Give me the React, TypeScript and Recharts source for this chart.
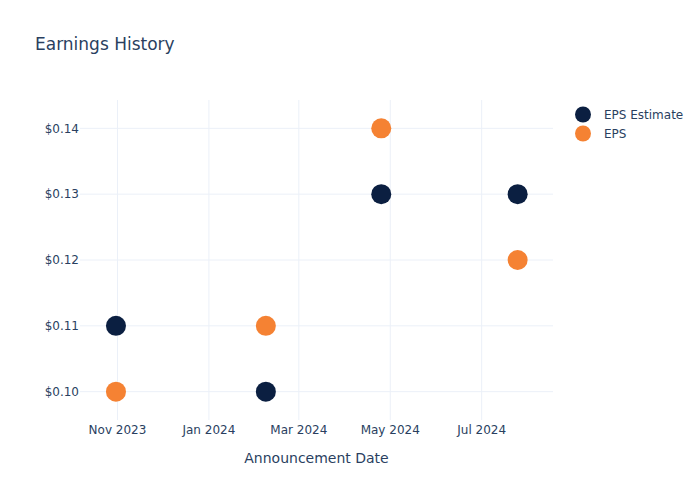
import React from "react";
import {
  ReferenceLine,
  Scatter,
  ScatterChart,
  XAxis,
  YAxis,
} from "recharts";

const announcementDates = ["2023-10-31", "2024-02-08", "2024-04-25", "2024-07-25"];
const epsEstimate = [0.11, 0.1, 0.13, 0.13];
const epsActual = [0.1, 0.11, 0.14, 0.12];
const xTickDates = ["2023-11-01", "2024-01-01", "2024-03-01", "2024-05-01", "2024-07-01"];
const yTicks = [0.1, 0.11, 0.12, 0.13, 0.14];
const monthNames = ["Jan", "Feb", "Mar", "Apr", "May", "Jun", "Jul", "Aug", "Sep", "Oct", "Nov", "Dec"];

const TEXT = "#2a3f5f";
const GRID = "#EBF0F8";
const NAVY = "#0b1f41";
const ORANGE = "#f58233";
const FONT = "'DejaVu Sans', sans-serif";

const ts = (d: string) => Date.parse(d + "T00:00:00Z");
const estimateData = announcementDates.map((d, i) => ({ date: ts(d), value: epsEstimate[i] }));
const epsData = announcementDates.map((d, i) => ({ date: ts(d), value: epsActual[i] }));
const xTicks = xTickDates.map(ts);
const xDomain = [ts("2023-10-07"), ts("2024-08-17") + 14 * 3600000];

const formatDate = (v: number) => {
  const d = new Date(v);
  return `${monthNames[d.getUTCMonth()]} ${d.getUTCFullYear()}`;
};

const dot = (color: string) => (props: any) =>
  <circle cx={props.cx} cy={props.cy} r={10} fill={color} />;

const legendItems = [
  { name: "EPS Estimate", color: NAVY },
  { name: "EPS", color: ORANGE },
];

export default function App() {
  return (
    <div style={{ position: "absolute", top: 0, left: 0, width: 700, height: 500, background: "#fff" }}>
      <div
        style={{
          position: "absolute",
          left: 35,
          top: 34,
          fontFamily: FONT,
          fontSize: 17,
          color: TEXT,
        }}
      >
        Earnings History
      </div>
      <div
        style={{
          position: "absolute",
          top: 105,
          left: 574,
          fontFamily: FONT,
          fontSize: 12,
          color: TEXT,
          zIndex: 2,
        }}
      >
        {legendItems.map((item) => (
          <div key={item.name} style={{ display: "flex", alignItems: "center", height: 19 }}>
            <svg width={20} height={19}>
              <circle cx={9} cy={9.5} r={8} fill={item.color} />
            </svg>
            <span style={{ marginLeft: 10 }}>{item.name}</span>
          </div>
        ))}
      </div>
      <ScatterChart
        width={700}
        height={500}
        margin={{ top: 100, right: 147, left: 20, bottom: 50 }}
        style={{ fontFamily: FONT }}
      >
        {yTicks.map((t) => (
          <ReferenceLine key={`y${t}`} y={t} stroke={GRID} strokeWidth={1} />
        ))}
        {xTicks.map((t) => (
          <ReferenceLine key={`x${t}`} x={t} stroke={GRID} strokeWidth={1} />
        ))}
        <XAxis
          type="number"
          dataKey="date"
          domain={xDomain}
          ticks={xTicks}
          allowDataOverflow
          tickFormatter={formatDate}
          axisLine={false}
          tickLine={false}
          tickSize={0}
          tickMargin={5}
          height={30}
          tick={{ fill: TEXT, fontSize: 12 }}
          label={{
            value: "Announcement Date",
            position: "insideBottom",
            offset: -13,
            fill: TEXT,
            fontSize: 14,
          }}
        />
        <YAxis
          type="number"
          dataKey="value"
          domain={[0.0957, 0.1443]}
          ticks={yTicks}
          allowDataOverflow
          tickFormatter={(v: number) => `$${v.toFixed(2)}`}
          axisLine={false}
          tickLine={false}
          tickSize={0}
          tickMargin={1}
          width={60}
          tick={{ fill: TEXT, fontSize: 12 }}
        />
        <Scatter
          name="EPS Estimate"
          data={estimateData}
          fill={NAVY}
          shape={dot(NAVY)}
          isAnimationActive={false}
        />
        <Scatter
          name="EPS"
          data={epsData}
          fill={ORANGE}
          shape={dot(ORANGE)}
          isAnimationActive={false}
        />
      </ScatterChart>
    </div>
  );
}
